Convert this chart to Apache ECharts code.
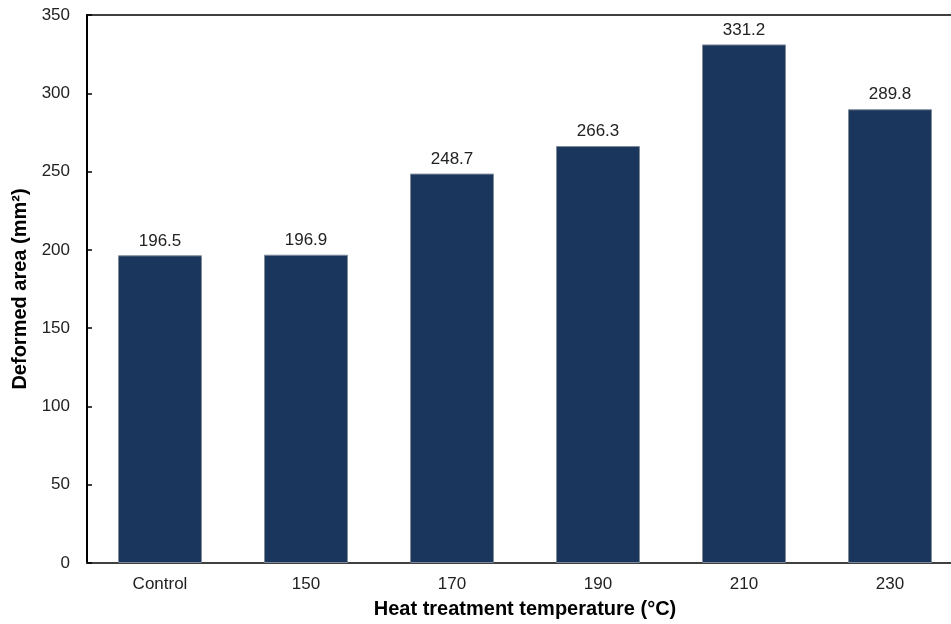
<!DOCTYPE html>
<html><head><meta charset="utf-8">
<script src="https://cdn.jsdelivr.net/npm/echarts@6/dist/echarts.min.js"></script>
<style>html,body{margin:0;padding:0;background:#fff;overflow:hidden}#c{width:951px;height:624px}</style>
</head><body><div id="c"></div>
<script>
const categories = ['Control', '150', '170', '190', '210', '230'];
const values = [196.5, 196.9, 248.7, 266.3, 331.2, 289.8];
const yTicks = [0, 50, 100, 150, 200, 250, 300, 350];

const chart = echarts.init(document.getElementById('c'));
const font = '"Liberation Sans", Arial, sans-serif';
chart.setOption({
  animation: false,
  grid: { left: 87, top: 15, right: -12, bottom: 61, show: true, borderColor: '#000', borderWidth: 1.5,
    backgroundColor: 'transparent', containLabel: false, outerBoundsMode: 'none' },
  xAxis: {
    type: 'category', data: categories,
    name: 'Heat treatment temperature (°C)', nameLocation: 'middle', nameGap: 36,
    nameTextStyle: { fontFamily: font, fontSize: 20, fontWeight: 'bold', color: '#000' },
    axisLine: { lineStyle: { color: '#404040', width: 2 } },
    axisTick: { show: false },
    axisLabel: { fontFamily: font, fontSize: 17, color: '#222', margin: 13 }
  },
  yAxis: {
    type: 'value', min: 0, max: 350, interval: 50,
    name: 'Deformed area (mm²)', nameLocation: 'middle', nameGap: 47, nameRotate: 90,
    nameTextStyle: { fontFamily: font, fontSize: 20, fontWeight: 'bold', color: '#000' },
    axisLine: { show: true, lineStyle: { color: '#000', width: 2 } },
    axisTick: { show: true, inside: true, length: 5, lineStyle: { color: '#000', width: 1.5 } },
    splitLine: { show: false },
    axisLabel: { fontFamily: font, fontSize: 17, color: '#222', margin: 17,
      formatter: v => yTicks.includes(v) ? String(v) : '' }
  },
  series: [{
    type: 'bar', data: values, barWidth: '57.5%',
    itemStyle: { color: '#1b365d', borderColor: '#7f8a99', borderWidth: 1 },
    label: { show: true, position: 'top', distance: 6, fontFamily: font, fontSize: 17, color: '#222',
      formatter: p => p.value.toFixed(1) }
  }]
});
</script></body></html>
